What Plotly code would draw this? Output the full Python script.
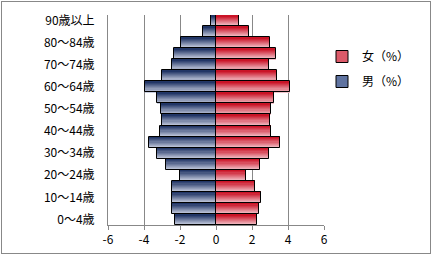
import plotly.graph_objects as go

age_groups = ["0～4歳", "5～9歳", "10～14歳", "15～19歳", "20～24歳", "25～29歳",
              "30～34歳", "35～39歳", "40～44歳", "45～49歳", "50～54歳", "55～59歳",
              "60～64歳", "65～69歳", "70～74歳", "75～79歳", "80～84歳", "85～89歳",
              "90歳以上"]
male = [-2.26, -2.43, -2.43, -2.43, -1.98, -2.78, -3.26, -3.70, -3.09, -3.00,
        -3.04, -3.26, -3.93, -2.98, -2.43, -2.33, -1.94, -0.75, -0.30]
female = [2.26, 2.37, 2.48, 2.15, 1.69, 2.43, 2.93, 3.54, 3.04, 2.98,
          3.04, 3.20, 4.13, 3.37, 2.93, 3.31, 2.98, 1.81, 1.26]
x_ticks = [-6, -4, -2, 0, 2, 4, 6]
x_tick_labels = ["-6", "-4", "-2", "0", "2", "4", "6"]
y_tick_labels = age_groups[::2]

W, H = 432, 255
L, R, T, B = 108, 108, 15, 30
pw, ph = W - L - R, H - T - B

ypos = list(range(len(age_groups)))

def lerp(c1, c2, t):
    return "rgb(%d,%d,%d)" % tuple(round(a + (b - a) * t) for a, b in zip(c1, c2))

fig = go.Figure()
n = 10
blue_top, blue_bot = (25, 45, 95), (210, 216, 232)
red_top, red_bot = (200, 10, 30), (245, 205, 212)
for vals, top, bot in ((male, blue_top, blue_bot), (female, red_top, red_bot)):
    for k in range(n):
        t = (k + 0.5) / n  # k=0 bottom slice -> light
        fig.add_trace(go.Bar(
            x=vals, y=ypos, orientation="h", width=1.0 / n + 0.005,
            offset=-0.5 + k / n, marker=dict(color=lerp(bot, top, t), line=dict(width=0)),
            showlegend=False, hoverinfo="skip"))

for vals, nm in ((female, "女（%）"), (male, "男（%）")):
    fig.add_trace(go.Bar(x=vals, y=ypos, orientation="h", width=1, offset=-0.5, name=nm,
                         marker=dict(color="rgba(0,0,0,0)", line=dict(color="black", width=1)),
                         showlegend=False))
# legend entries
fig.add_trace(go.Bar(x=[None], y=[None], orientation="h", name="女（%）", legendgroup="f",
                     marker=dict(color="rgb(220,90,105)", line=dict(color="black", width=1))))
fig.add_trace(go.Bar(x=[None], y=[None], orientation="h", name="男（%）", legendgroup="m",
                     marker=dict(color="rgb(95,115,160)", line=dict(color="black", width=1))))

font = dict(family="Noto Sans CJK JP, sans-serif", size=12, color="black")
fig.update_layout(
    width=W, height=H, margin=dict(l=L, r=R, t=T, b=B, autoexpand=False),
    paper_bgcolor="white", plot_bgcolor="white",
    barmode="overlay", bargap=0, font=font,
    legend=dict(x=(322 - L) / pw, y=(H - B - 42) / ph, xanchor="left", yanchor="top",
                font=dict(family="Noto Sans CJK JP, sans-serif", size=12, color="black"),
                traceorder="grouped", itemwidth=30, tracegroupgap=6, bgcolor="rgba(0,0,0,0)"),
    xaxis=dict(range=[-6, 6], tickvals=x_ticks, ticktext=x_tick_labels,
               showgrid=True, gridcolor="#888888", gridwidth=1, zeroline=False,
               showline=True, linecolor="#888888", linewidth=1,
               ticks="outside", ticklen=4, tickcolor="#888888", fixedrange=True),
    yaxis=dict(range=[-0.5, len(age_groups) - 0.5], tickvals=ypos[::2], ticktext=y_tick_labels,
               showgrid=False, zeroline=False, showline=True, linecolor="#888888",
               linewidth=1, ticks="", ticklabelstandoff=10),
)
post = ("document.body.style.margin='0';"
        "var fr=document.createElement('div');"
        "fr.style.cssText='position:absolute;left:1px;top:1px;width:428px;height:251px;"
        "border:1px solid #888888;pointer-events:none;z-index:1000;';"
        "document.body.appendChild(fr);")
fig.write_html("out.html", post_script=post, config={"displayModeBar": False})
